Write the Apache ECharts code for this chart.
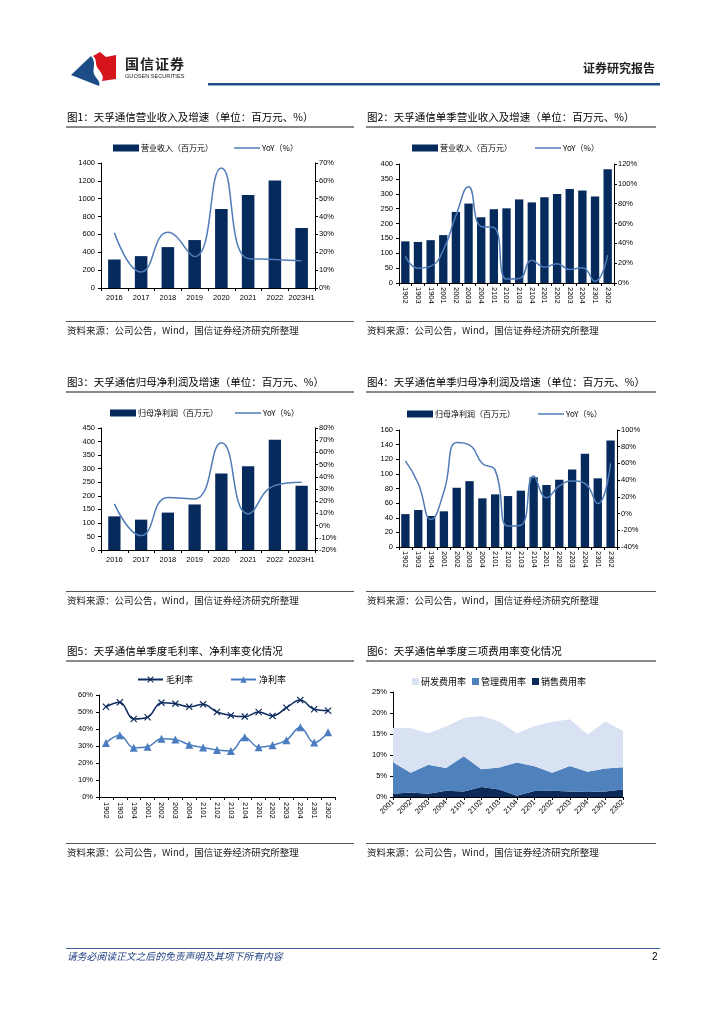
<!DOCTYPE html>
<html><head><meta charset="utf-8">
<script src="https://cdn.jsdelivr.net/npm/echarts@6/dist/echarts.min.js"></script>
<style>
body{margin:0;background:#fff;}
#page{position:relative;width:724px;height:1024px;overflow:hidden;background:#fff;font-family:"Liberation Sans","Noto Sans CJK SC",sans-serif;}
#chart{position:absolute;left:0;top:0;width:724px;height:1024px;}
.t{position:absolute;white-space:nowrap;line-height:1;color:#000;font-family:"Noto Sans CJK SC","Liberation Sans",sans-serif;}
.ttl{font-size:10.5px;}
.src{font-size:9.5px;color:#222;}
.ul{position:absolute;height:2px;background:#8a8a8a;}
.sl{position:absolute;height:1px;background:#555;}
</style></head><body>
<div id="page">
<div id="chart"></div>
<svg style="position:absolute;left:0;top:0" width="724" height="100">
  <path d="M71,75 L91,56 C97,63 92,69 94,74 C96,79 101,81 99,86 Z" fill="#1b4c86"/>
  <path d="M93,56 L100,52 L106,57 L116,55 L116,79 L102,81 C105,75 99,71 97,67 C95,62 97,59 93,56 Z" fill="#d5141c"/>
  <rect x="208" y="83" width="452" height="2.5" fill="#1f4e8a"/>
</svg>
<div class="t" style="left:125px;top:56px;font-size:14px;font-weight:bold;color:#222;letter-spacing:1px;">国信证券</div>
<div class="t" style="left:125px;top:74px;font-size:5.6px;color:#222;font-family:'Liberation Sans',sans-serif;">GUOSEN SECURITIES</div>
<div class="t" style="left:583px;top:62px;font-size:12px;font-weight:bold;color:#222;">证券研究报告</div>

<div class="t ttl" style="left:67px;top:112px;">图1：天孚通信营业收入及增速（单位：百万元、%）</div>
<div class="t ttl" style="left:367px;top:112px;">图2：天孚通信单季营业收入及增速（单位：百万元、%）</div>
<div class="ul" style="left:66px;top:126px;width:288px;"></div>
<div class="ul" style="left:366px;top:126px;width:290px;"></div>
<div class="sl" style="left:66px;top:321px;width:288px;"></div>
<div class="sl" style="left:366px;top:321px;width:290px;"></div>
<div class="t src" style="left:67px;top:326px;">资料来源：公司公告，Wind，国信证券经济研究所整理</div>
<div class="t src" style="left:367px;top:326px;">资料来源：公司公告，Wind，国信证券经济研究所整理</div>

<div class="t ttl" style="left:67px;top:377px;">图3：天孚通信归母净利润及增速（单位：百万元、%）</div>
<div class="t ttl" style="left:367px;top:377px;">图4：天孚通信单季归母净利润及增速（单位：百万元、%）</div>
<div class="ul" style="left:66px;top:391px;width:288px;"></div>
<div class="ul" style="left:366px;top:391px;width:290px;"></div>
<div class="sl" style="left:66px;top:591px;width:288px;"></div>
<div class="sl" style="left:366px;top:591px;width:290px;"></div>
<div class="t src" style="left:67px;top:596px;">资料来源：公司公告，Wind，国信证券经济研究所整理</div>
<div class="t src" style="left:367px;top:596px;">资料来源：公司公告，Wind，国信证券经济研究所整理</div>

<div class="t ttl" style="left:67px;top:646px;">图5：天孚通信单季度毛利率、净利率变化情况</div>
<div class="t ttl" style="left:367px;top:646px;">图6：天孚通信单季度三项费用率变化情况</div>
<div class="ul" style="left:66px;top:660px;width:288px;"></div>
<div class="ul" style="left:366px;top:660px;width:290px;"></div>
<div class="sl" style="left:66px;top:843px;width:288px;"></div>
<div class="sl" style="left:366px;top:843px;width:290px;"></div>
<div class="t src" style="left:67px;top:848px;">资料来源：公司公告，Wind，国信证券经济研究所整理</div>
<div class="t src" style="left:367px;top:848px;">资料来源：公司公告，Wind，国信证券经济研究所整理</div>

<div style="position:absolute;left:66px;top:948px;width:594px;height:1px;background:#3a62a0;"></div>
<div class="t" style="left:67px;top:952px;font-size:9.8px;font-style:italic;color:#1f3f80;">请务必阅读正文之后的免责声明及其项下所有内容</div>
<div class="t" style="left:652px;top:952px;font-size:10px;color:#000;font-family:'Liberation Sans',sans-serif;">2</div>
</div>
<script>
// ---------- data ----------
const years = ['2016','2017','2018','2019','2020','2021','2022','2023H1'];
const quarters = ['1902','1903','1904','2001','2002','2003','2004','2101','2102','2103','2104','2201','2202','2203','2204','2301','2302'];
const quarters6 = ['2001','2002','2003','2004','2101','2102','2103','2104','2201','2202','2203','2204','2301','2302'];

const revenue1 = [319,357,458,537,886,1043,1205,672];
const revenueYoY1 = [31.0,9.0,31.2,17.6,67.2,16.5,16.0,15.2];

const revenue2 = [140,138,144,161,239,267,221,248,251,281,271,288,299,316,311,291,382];
const revenueYoY2 = [27,15,17,33,68,97,57,56,4,4.5,23,16,19.5,13.5,15.5,1.7,28];

const profit3 = [124,112,138,168,282,309,407,237];
const profitYoY3 = [17.8,-8.2,23,21.9,68,9.6,32.8,35.5];

const profit4 = [45,50.6,42.4,48.8,81,90,66.5,72,69.7,77,95.3,84.8,92,106,127.6,93.9,145.8];
const profitYoY4 = [63,36,-7,26,85,82,60,52,-15,-14,45,19,33,39,36,12,60];

const grossMargin5 = [53.1,55.7,45.9,46.9,55.5,54.9,53.1,54.5,50,48,47.3,50,47.7,52.5,57,51.6,50.8];
const netMargin5 = [31.8,36.3,28.9,29.5,34.2,33.8,30.7,29.1,27.7,27.1,35.2,29.3,30.5,33.4,41,32,38.1];

const salesRate6 = [0.8,1.1,0.8,1.5,1.3,2.4,1.8,0.3,1.4,1.5,1.3,1.2,1.3,1.8];
const adminRate6 = [7.5,4.65,6.9,5.4,8.4,4.2,5.2,7.9,5.9,4.25,6.1,4.8,5.5,5.3];
const rdRate6 = [8.1,10.65,7.5,9.9,9.1,12.7,11,7,9.6,12.15,11.1,8.9,11.2,8.7];

// ---------- style ----------
const FONT = '"Liberation Sans","Noto Sans CJK SC",sans-serif';
const CJK = '"Noto Sans CJK SC","Liberation Sans",sans-serif';
const NAVY = '#062a5c';
const YOYC = '#4f7cb8';
const lbl = {color:'#000', fontSize:7.5, fontFamily:FONT};

function catAxis(gi, data, extra) {
  return Object.assign({
    type:'category', gridIndex:gi, data:data,
    axisLine:{show:true, lineStyle:{color:'#000', width:1}},
    axisTick:{show:true, length:3, lineStyle:{color:'#000'}},
    axisLabel:Object.assign({interval:0, margin:6}, lbl),
    splitLine:{show:false}
  }, extra || {});
}
function valAxis(gi, min, max, interval, pos, pct) {
  return {
    type:'value', gridIndex:gi, min:min, max:max, interval:interval, position:pos,
    axisLine:{show:true, lineStyle:{color:'#000', width:1}},
    axisTick:{show:true, length:3, lineStyle:{color:'#000'}},
    axisLabel:Object.assign({margin:pos==='left'?6:4, formatter: function(v){ return String(v) + (pct ? '%' : ''); }}, lbl),
    splitLine:{show:false}
  };
}
const lineIcon = 'path://M0,0H26V1.5H0Z';
function legendBar(left, top, gap, barName) {
  return {
    left:left, top:top, itemWidth:26, itemHeight:7, itemGap:gap, padding:0,
    textStyle:{fontSize:8, fontFamily:CJK, color:'#000', padding:[0,0,0,-3]},
    data:[{name:barName, icon:'rect'}, {name:'YoY（%）', icon:lineIcon}]
  };
}

const xMark = 'path://M0,1.2L1.2,0L5,3.8L8.8,0L10,1.2L6.2,5L10,8.8L8.8,10L5,6.2L1.2,10L0,8.8L3.8,5Z';

const option = {
  animation:false,
  grid:[
    {left:101, top:163, width:214, height:125},
    {left:399, top:164, width:215, height:119},
    {left:101, top:428, width:214, height:122},
    {left:399, top:430, width:218, height:117},
    {left:99,  top:695, width:236, height:102},
    {left:393, top:692, width:230, height:105}
  ],
  xAxis:[
    catAxis(0, years),
    catAxis(1, quarters, {axisLabel:Object.assign({interval:0, margin:4, rotate:-90}, lbl)}),
    catAxis(2, years),
    catAxis(3, quarters, {axisLabel:Object.assign({interval:0, margin:4, rotate:-90}, lbl)}),
    catAxis(4, quarters, {axisLabel:Object.assign({interval:0, margin:5, rotate:-90}, lbl)}),
    catAxis(5, quarters6, {boundaryGap:false, axisLabel:Object.assign({interval:0, margin:4, rotate:45}, lbl)})
  ],
  yAxis:[
    valAxis(0, 0, 1400, 200, 'left', false),
    valAxis(0, 0, 70, 10, 'right', true),
    valAxis(1, 0, 400, 50, 'left', false),
    valAxis(1, 0, 120, 20, 'right', true),
    valAxis(2, 0, 450, 50, 'left', false),
    valAxis(2, -20, 80, 10, 'right', true),
    valAxis(3, 0, 160, 20, 'left', false),
    valAxis(3, -40, 100, 20, 'right', true),
    valAxis(4, 0, 60, 10, 'left', true),
    valAxis(5, 0, 25, 5, 'left', true)
  ],
  legend:[
    legendBar(113, 144, 21, '营业收入（百万元）'),
    legendBar(412, 144, 23, '营业收入（百万元）'),
    legendBar(110, 409, 17, '归母净利润（百万元）'),
    legendBar(407, 410, 23, '归母净利润（百万元）'),
    {left:137, top:675, itemWidth:25, itemHeight:8, itemGap:37, padding:0,
     textStyle:{fontSize:9, fontFamily:CJK, color:'#000', padding:[0,0,0,-2]},
     data:['毛利率','净利率']},
    {left:412, top:677, itemWidth:7, itemHeight:7, itemGap:6, padding:0,
     textStyle:{fontSize:9, fontFamily:CJK, color:'#000', padding:[0,0,0,-3]},
     data:[{name:'研发费用率', icon:'rect'}, {name:'管理费用率', icon:'rect'}, {name:'销售费用率', icon:'rect'}]}
  ],
  series:[
    {name:'营业收入（百万元）', type:'bar', xAxisIndex:0, yAxisIndex:0, data:revenue1, barWidth:'47%', itemStyle:{color:NAVY}},
    {name:'YoY（%）', type:'line', xAxisIndex:0, yAxisIndex:1, data:revenueYoY1, smooth:0.5, symbol:'none', lineStyle:{color:YOYC, width:1.5}, itemStyle:{color:YOYC}},
    {name:'营业收入（百万元）', type:'bar', xAxisIndex:1, yAxisIndex:2, data:revenue2, barWidth:'66%', itemStyle:{color:NAVY}},
    {name:'YoY（%）', type:'line', xAxisIndex:1, yAxisIndex:3, data:revenueYoY2, smooth:0.5, symbol:'none', lineStyle:{color:YOYC, width:1.5}, itemStyle:{color:YOYC}},
    {name:'归母净利润（百万元）', type:'bar', xAxisIndex:2, yAxisIndex:4, data:profit3, barWidth:'46%', itemStyle:{color:NAVY}},
    {name:'YoY（%）', type:'line', xAxisIndex:2, yAxisIndex:5, data:profitYoY3, smooth:0.5, symbol:'none', lineStyle:{color:YOYC, width:1.5}, itemStyle:{color:YOYC}},
    {name:'归母净利润（百万元）', type:'bar', xAxisIndex:3, yAxisIndex:6, data:profit4, barWidth:'65%', itemStyle:{color:NAVY}},
    {name:'YoY（%）', type:'line', xAxisIndex:3, yAxisIndex:7, data:profitYoY4, smooth:0.5, symbol:'none', lineStyle:{color:YOYC, width:1.5}, itemStyle:{color:YOYC}},
    {name:'毛利率', type:'line', xAxisIndex:4, yAxisIndex:8, data:grossMargin5, smooth:0.4, symbol:xMark, symbolSize:7, lineStyle:{color:'#0d2b5e', width:1.5}, itemStyle:{color:'#0d2b5e'}},
    {name:'净利率', type:'line', xAxisIndex:4, yAxisIndex:8, data:netMargin5, smooth:0.4, symbol:'triangle', symbolSize:8, lineStyle:{color:'#4a7cbf', width:1.5}, itemStyle:{color:'#4a7cbf'}},
    {name:'销售费用率', type:'line', xAxisIndex:5, yAxisIndex:9, data:salesRate6, stack:'fee', symbol:'none', lineStyle:{width:0}, areaStyle:{color:'#0b2a59', opacity:1}, itemStyle:{color:'#0b2a59'}},
    {name:'管理费用率', type:'line', xAxisIndex:5, yAxisIndex:9, data:adminRate6, stack:'fee', symbol:'none', lineStyle:{width:0}, areaStyle:{color:'#4f81bd', opacity:1}, itemStyle:{color:'#4f81bd'}},
    {name:'研发费用率', type:'line', xAxisIndex:5, yAxisIndex:9, data:rdRate6, stack:'fee', symbol:'none', lineStyle:{width:0}, areaStyle:{color:'#d9e2f3', opacity:1}, itemStyle:{color:'#d9e2f3'}}
  ]
};
const chart = echarts.init(document.getElementById('chart'), null, {renderer:'canvas'});
chart.setOption(option);
</script>
</body></html>
